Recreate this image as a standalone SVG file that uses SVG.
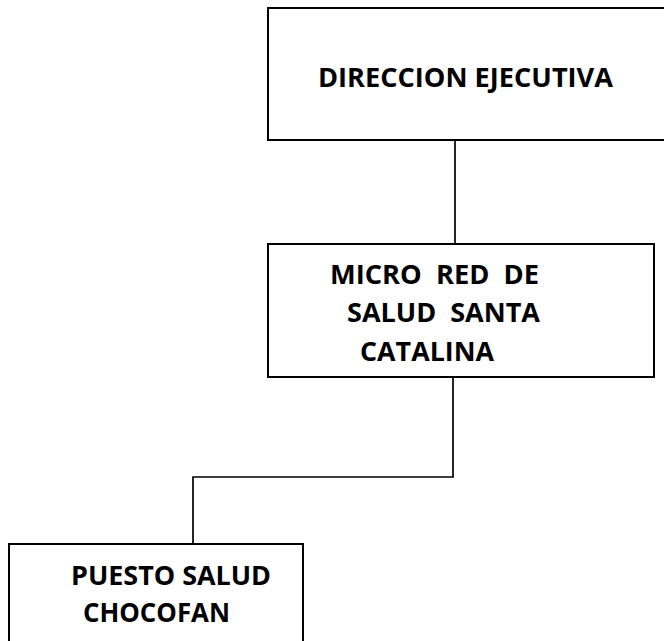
<svg xmlns="http://www.w3.org/2000/svg" width="664" height="641" viewBox="0 0 664 641">
<style>
.box{fill:#fff;stroke:#000;stroke-width:2}
.lbl{font-family:"Open Sans","Liberation Sans",Arial,sans-serif;font-weight:bold;font-size:27px;fill:#000}
.con{fill:none;stroke:#000;stroke-width:1.7}
</style>
<rect width="664" height="641" fill="#fff"/>
<g id="connectors">
<path class="con" d="M455 140 V244"/>
<path class="con" d="M453 377 V477 H193 V544"/>
</g>
<g id="node-direccion">
<rect class="box" x="268" y="8" width="410" height="132"/>
<text class="lbl" x="318" y="87" textLength="295" lengthAdjust="spacingAndGlyphs">DIRECCION EJECUTIVA</text>
</g>
<g id="node-microred">
<rect class="box" x="268" y="244" width="386" height="133"/>
<text class="lbl" x="330" y="284" textLength="209" lengthAdjust="spacingAndGlyphs" xml:space="preserve">MICRO  RED  DE</text>
<text class="lbl" x="347" y="322" textLength="193" lengthAdjust="spacingAndGlyphs" xml:space="preserve">SALUD  SANTA</text>
<text class="lbl" x="360" y="361" textLength="134" lengthAdjust="spacingAndGlyphs">CATALINA</text>
</g>
<g id="node-puesto">
<rect class="box" x="9" y="544" width="294" height="110"/>
<text class="lbl" x="71" y="585" textLength="200" lengthAdjust="spacingAndGlyphs">PUESTO SALUD</text>
<text class="lbl" x="83" y="622" textLength="147" lengthAdjust="spacingAndGlyphs">CHOCOFAN</text>
</g>
</svg>
